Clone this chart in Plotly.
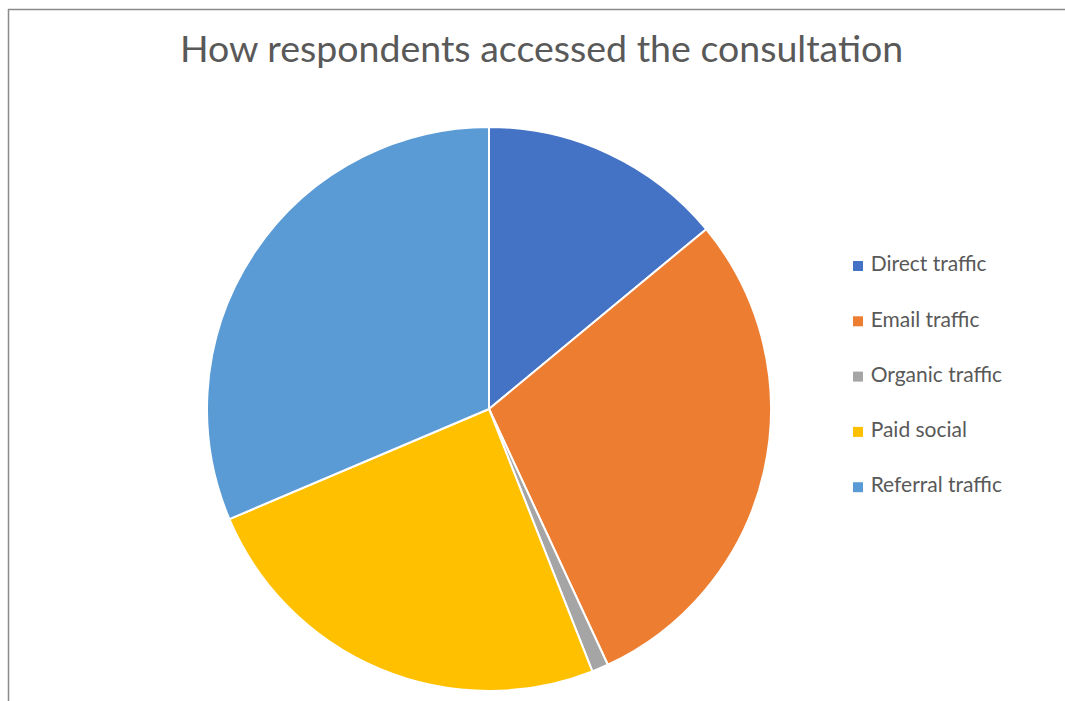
import plotly.graph_objects as go

# Traffic sources for the consultation (share of respondents, %)
labels = ["Direct traffic", "Email traffic", "Organic traffic", "Paid social", "Referral traffic"]
values = [14.0, 29.1, 0.95, 24.6, 31.4]
colors = ["#4472C4", "#ED7D31", "#A5A5A5", "#FFC000", "#5B9BD5"]

W, H = 1065, 701
FONT = "Lato"
TEXT_COLOR = "#595959"

# pie placement (pixels)
cx, cy, r = 489, 409, 282

fig = go.Figure()

fig.add_trace(go.Pie(
    labels=labels,
    values=values,
    sort=False,
    direction="clockwise",
    rotation=0,
    marker=dict(colors=colors, line=dict(color="white", width=2)),
    textinfo="none",
    hoverinfo="label+percent",
    showlegend=False,
    domain=dict(x=[(cx - r) / W, (cx + r) / W], y=[1 - (cy + r) / H, 1 - (cy - r) / H]),
))

# legend drawn as square markers with labels on an overlay axis in pixel units
leg_x, leg_top, leg_step = 858, 266, 55.3
fig.add_trace(go.Scatter(
    x=[leg_x] * len(labels),
    y=[leg_top + i * leg_step for i in range(len(labels))],
    mode="markers+text",
    marker=dict(symbol="square", size=10, color=colors),
    text=[" " + l for l in labels],
    textposition="middle right",
    textfont=dict(family=FONT, size=21, color=TEXT_COLOR),
    hoverinfo="skip",
    showlegend=False,
    cliponaxis=False,
))

fig.update_layout(
    width=W, height=H,
    margin=dict(l=0, r=0, t=0, b=0),
    paper_bgcolor="white",
    plot_bgcolor="rgba(0,0,0,0)",
    xaxis=dict(range=[0, W], visible=False, fixedrange=True),
    yaxis=dict(range=[H, 0], visible=False, fixedrange=True),
    annotations=[dict(
        text="How respondents accessed the consultation",
        x=541, y=47, xref="x", yref="y",
        showarrow=False, xanchor="center", yanchor="middle",
        font=dict(family=FONT, size=37.5, color=TEXT_COLOR),
    )],
    shapes=[
        dict(type="line", xref="x", yref="y", x0=8, x1=W, y0=9.5, y1=9.5,
             line=dict(color="#8a8a8a", width=1.5)),
        dict(type="line", xref="x", yref="y", x0=8.5, x1=8.5, y0=9, y1=H,
             line=dict(color="#8a8a8a", width=1.5)),
    ],
)

fig.write_html("out.html")
